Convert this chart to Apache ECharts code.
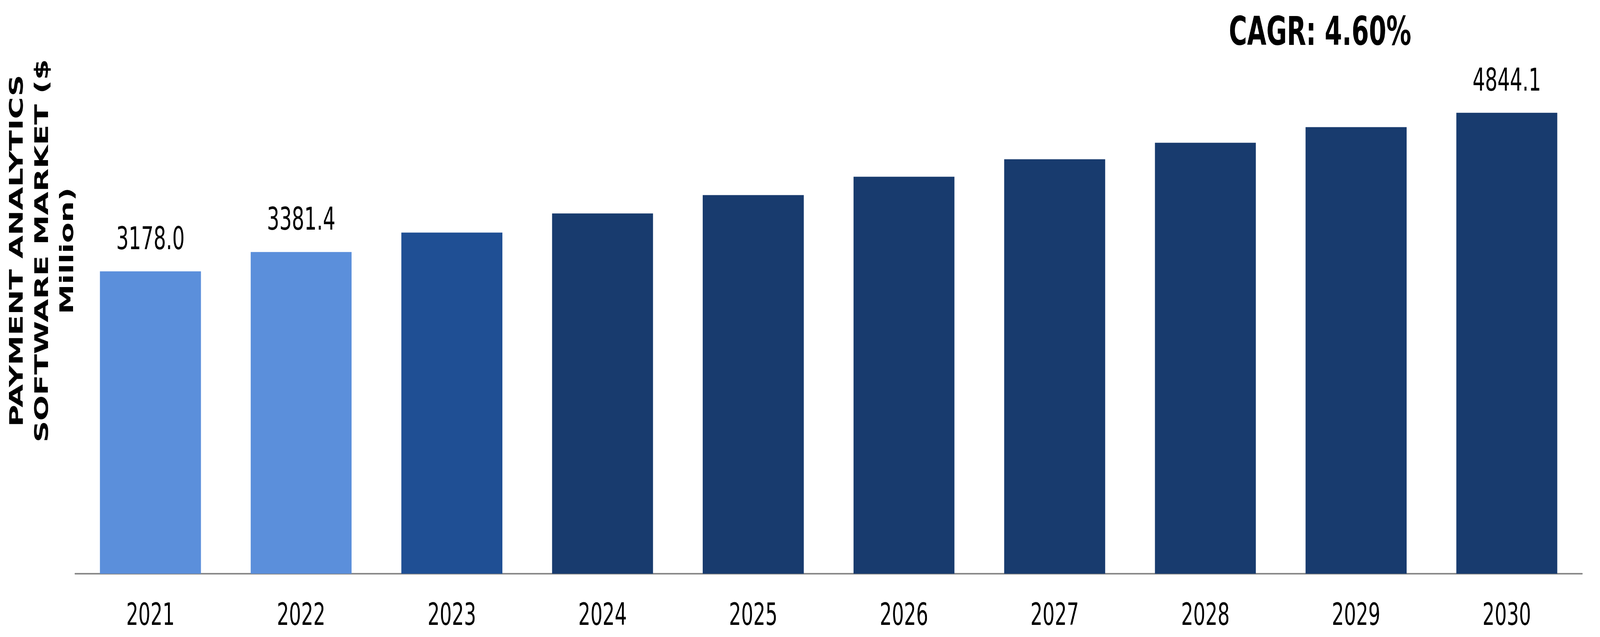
<!DOCTYPE html>
<html>
<head>
<meta charset="utf-8">
<script src="https://cdn.jsdelivr.net/npm/echarts@6/dist/echarts.min.js"></script>
<style>
  html, body { margin: 0; padding: 0; background: #fff; overflow: hidden; }
  #chart { width: 6543px; height: 1631px; transform-origin: 0 0; }
</style>
</head>
<body>
<div id="chart"></div>
<script>
  // data
  var years = ['2021', '2022', '2023', '2024', '2025', '2026', '2027', '2028', '2029', '2030'];
  var marketValues = [3178.0, 3381.4, 3585, 3786, 3979, 4172, 4356, 4529, 4693, 4844.1];
  var barColors = ['#5b8fdb', '#5b8fdb', '#1f4f94', '#183b6e', '#183b6e', '#183b6e', '#183b6e', '#183b6e', '#183b6e', '#183b6e'];
  var labelledYears = ['2021', '2022', '2030'];
  var axisTitle = 'PAYMENT ANALYTICS\nSOFTWARE MARKET ($\nMillion)';
  var cagrText = 'CAGR: 4.60%';

  var el = document.getElementById('chart');
  // the chart is laid out at the reference's 6543x1631, then fitted into whatever window we get
  var sx = window.innerWidth / 6543;
  var sy = window.innerHeight / 1631;
  el.style.transform = 'scale(' + sx + ',' + sy + ')';

  var chart = echarts.init(el, null, { width: 6543, height: 1631 });

  var barData = marketValues.map(function (v, i) {
    return {
      value: v,
      itemStyle: { color: barColors[i] },
      label: { show: labelledYears.indexOf(years[i]) >= 0 }
    };
  });

  var option = {
    animation: false,
    textStyle: { fontFamily: 'DejaVu Sans' },
    grid: { left: 307, right: 73, top: 129, bottom: 162 },
    xAxis: {
      type: 'category',
      data: years,
      axisLine: { lineStyle: { color: '#898989', width: 4 } },
      axisTick: { show: false },
      axisLabel: { color: '#000', fontSize: 78, margin: 72, fontFamily: 'DejaVu Sans' }
    },
    yAxis: {
      type: 'value',
      min: 0,
      max: 5500,
      show: false,
      splitLine: { show: false }
    },
    series: [{
      type: 'bar',
      data: barData,
      barCategoryGap: '33%',
      label: {
        position: 'top',
        distance: 38,
        color: '#000',
        fontSize: 80,
        fontFamily: 'DejaVu Sans',
        formatter: function (p) { return p.value.toFixed(1); }
      }
    }],
    graphic: [
      {
        type: 'text',
        x: 176,
        y: 642,
        rotation: Math.PI / 2,
        style: {
          text: axisTitle,
          fontFamily: 'DejaVu Sans',
          fontWeight: 'bold',
          fontSize: 77,
          lineHeight: 103,
          fill: '#000',
          align: 'center',
          verticalAlign: 'middle'
        }
      },
      {
        type: 'text',
        x: 5398,
        y: 88,
        style: {
          text: cagrText,
          fontFamily: 'DejaVu Sans',
          fontWeight: 'bold',
          fontSize: 102,
          fill: '#000',
          align: 'center',
          verticalAlign: 'middle'
        }
      }
    ]
  };

  chart.setOption(option);
</script>
</body>
</html>
